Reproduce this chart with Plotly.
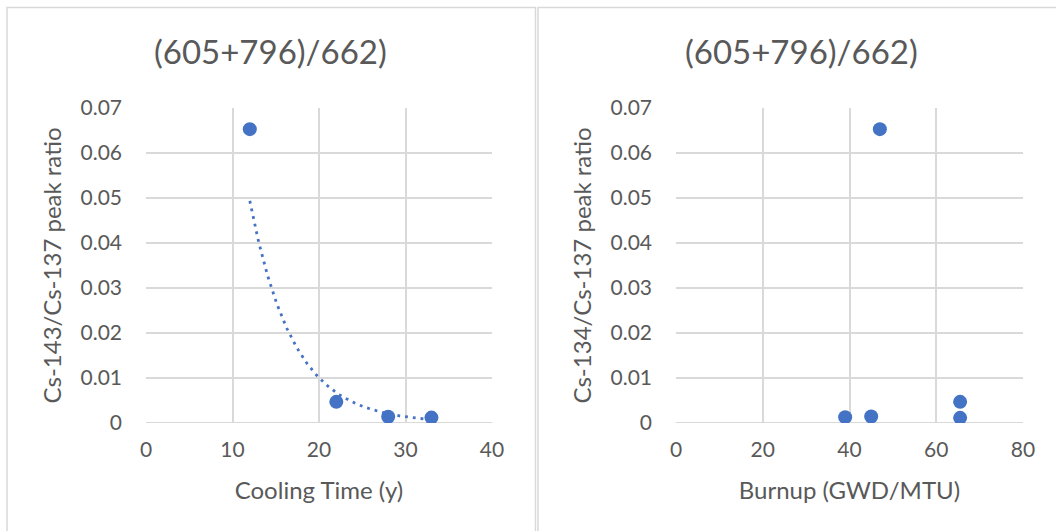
import numpy as np
import plotly.graph_objects as go

# ---- data ----
cooling_time = [12, 22, 28, 33]
ratio_ct = [0.0653, 0.0047, 0.0014, 0.0012]

burnup = [47, 39, 45, 65.5, 65.5]
ratio_bu = [0.0653, 0.0013, 0.00145, 0.0047, 0.00115]

title_text = "(605+796)/662)"
xtitle_left = "Cooling Time (y)"
ytitle_left = "Cs-143/Cs-137 peak ratio"
xtitle_right = "Burnup (GWD/MTU)"
ytitle_right = "Cs-134/Cs-137 peak ratio"

# exponential trendline (least squares on log y, like Excel)
b, ln_a = np.polyfit(np.array(cooling_time, float), np.log(ratio_ct), 1)
tx = np.linspace(min(cooling_time), max(cooling_time), 200)
ty = np.exp(ln_a) * np.exp(b * tx)

BLUE = "#4472C4"
TXT = "#595959"
GRID = "#D9D9D9"
FONT = "Lato"

fig = go.Figure()
fig.add_trace(go.Scatter(x=tx, y=ty, mode="lines",
                         line=dict(color=BLUE, width=2.8, dash="2.8px,5px"),
                         xaxis="x", yaxis="y", showlegend=False, hoverinfo="skip"))
fig.add_trace(go.Scatter(x=cooling_time, y=ratio_ct, mode="markers",
                         marker=dict(color=BLUE, size=14),
                         xaxis="x", yaxis="y", showlegend=False))
fig.add_trace(go.Scatter(x=burnup, y=ratio_bu, mode="markers",
                         marker=dict(color=BLUE, size=14),
                         xaxis="x2", yaxis="y2", showlegend=False))

W, H = 1056, 531
def px(x): return x / W
def py(y): return 1 - y / H

axis_common = dict(showgrid=True, gridcolor=GRID, gridwidth=1.5,
                   zeroline=False, showline=False, ticks="", automargin=False,
                   tickfont=dict(family=FONT, size=21, color=TXT),
                   fixedrange=True)

fig.update_layout(
    template="none",
    width=W, height=H, autosize=False,
    margin=dict(l=0, r=0, t=0, b=0, pad=0),
    paper_bgcolor="white", plot_bgcolor="white",
    font=dict(family=FONT, color=TXT),
    xaxis=dict(domain=[px(146), px(492)], range=[0, 40], dtick=10,
               anchor="y", ticklabelstandoff=12,
               title=dict(text=xtitle_left, font=dict(family=FONT, size=24, color=TXT), standoff=22),
               **axis_common),
    yaxis=dict(domain=[py(423), py(108)], range=[0, 0.07], dtick=0.01,
               anchor="x", ticklabelstandoff=23,
               title=dict(text=ytitle_left, font=dict(family=FONT, size=24, color=TXT), standoff=12),
               **axis_common),
    xaxis2=dict(domain=[px(676), px(1023)], range=[0, 80], dtick=20,
                anchor="y2", ticklabelstandoff=12,
                title=dict(text=xtitle_right, font=dict(family=FONT, size=24, color=TXT), standoff=22),
                **axis_common),
    yaxis2=dict(domain=[py(423), py(108)], range=[0, 0.07], dtick=0.01,
                anchor="x2", ticklabelstandoff=23,
                title=dict(text=ytitle_right, font=dict(family=FONT, size=24, color=TXT), standoff=12),
                **axis_common),
    annotations=[
        dict(text=title_text, x=px(270), y=py(51), xref="paper", yref="paper",
             xanchor="center", yanchor="middle",
             showarrow=False, font=dict(family=FONT, size=33, color=TXT)),
        dict(text=title_text, x=px(801), y=py(51), xref="paper", yref="paper",
             xanchor="center", yanchor="middle",
             showarrow=False, font=dict(family=FONT, size=33, color=TXT)),
    ],
    shapes=[
        dict(type="line", xref="x", yref="y", x0=0, x1=40, y0=0, y1=0,
             line=dict(color=GRID, width=2), layer="below"),
        dict(type="line", xref="x2", yref="y2", x0=0, x1=80, y0=0, y1=0,
             line=dict(color=GRID, width=2), layer="below"),
        dict(type="rect", xref="paper", yref="paper",
             x0=px(7), x1=px(535.5), y0=py(540), y1=py(7.5),
             line=dict(color=GRID, width=1.5), layer="below"),
        dict(type="rect", xref="paper", yref="paper",
             x0=px(538), x1=px(1065), y0=py(540), y1=py(7.5),
             line=dict(color=GRID, width=1.5), layer="below"),
    ],
)

fig.write_html("out.html", config={"displayModeBar": False},
               post_script="document.body.style.margin='0';document.body.style.overflow='hidden';")
